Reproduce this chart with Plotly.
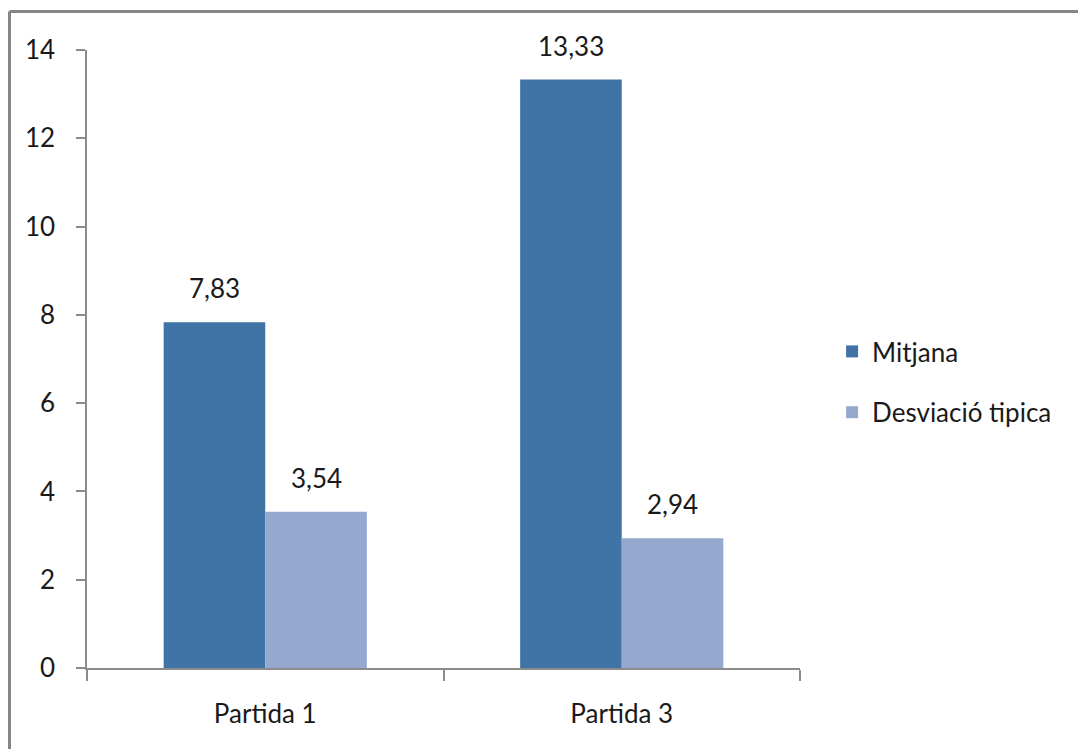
import plotly.graph_objects as go

categories = ["Partida 1", "Partida 3"]
mitjana = [7.83, 13.33]
desviacio = [3.54, 2.94]
series_names = ["Mitjana", "Desviació tipica"]
colors = ["#4174A6", "#95A9CF"]
y_ticks = [0, 2, 4, 6, 8, 10, 12, 14]

FONT = "Lato, 'Liberation Sans', sans-serif"
W, H = 1078, 749
L, R, T, B = 87, 278, 50, 81

fig = go.Figure()
annotations = []
series = [mitjana, desviacio]
for i, (name, vals) in enumerate(zip(series_names, series)):
    fig.add_trace(go.Bar(
        x=categories, y=vals, name=name, marker=dict(color=colors[i], line=dict(width=0)),
        legendgroup=name,
    ))
    for c, v in zip(categories, vals):
        annotations.append(dict(
            x=c, y=v, xref="x", yref="y", text=f"{v:.2f}".replace(".", ","),
            showarrow=False, yanchor="bottom", yshift=16,
            xshift=(-51 if i == 0 else 51),
            font=dict(size=26, family=FONT, color="#1a1a1a"),
        ))

pw = W - L - R
ph = H - T - B
def px_x(x):
    return (x - L) / pw
def px_y(y):
    return (H - B - y) / ph

fig.update_layout(
    width=W, height=H,
    margin=dict(l=L, r=R, t=T, b=B, pad=0),
    paper_bgcolor="white", plot_bgcolor="white",
    barmode="group", bargap=0.43, bargroupgap=0,
    separators=",.",
    font=dict(family=FONT, size=26, color="#1a1a1a"),
    showlegend=True,
    legend=dict(x=1.045, xanchor="left", y=px_y(382), yanchor="middle",
                tracegroupgap=24, font=dict(size=26, family=FONT, color="#1a1a1a"),
                itemwidth=30, bgcolor="rgba(0,0,0,0)"),
    annotations=annotations,
    shapes=[
        dict(type="line", xref="paper", yref="paper", x0=px_x(9.5), x1=px_x(W + 20),
             y0=px_y(11.5), y1=px_y(11.5), line=dict(color="#868686", width=3)),
        dict(type="line", xref="paper", yref="paper", x0=px_x(9.5), x1=px_x(9.5),
             y0=px_y(11.5), y1=px_y(H + 20), line=dict(color="#868686", width=3)),
    ],
)
fig.update_xaxes(
    showline=True, linecolor="#8c8c8c", linewidth=1.5,
    ticks="outside", tickson="boundaries", ticklen=11, tickcolor="#8c8c8c", tickwidth=1.5,
    ticklabelstandoff=22, showgrid=False,
    tickfont=dict(size=26, family=FONT, color="#1a1a1a"),
)
fig.update_yaxes(
    range=[0, 14], tickvals=y_ticks, showline=True, linecolor="#8c8c8c", linewidth=1.5,
    ticks="outside", ticklen=9, tickcolor="#8c8c8c", tickwidth=1.5,
    ticklabelstandoff=16, showgrid=False, zeroline=False,
    tickfont=dict(size=26, family=FONT, color="#1a1a1a"),
)

fig.write_html("out.html")
